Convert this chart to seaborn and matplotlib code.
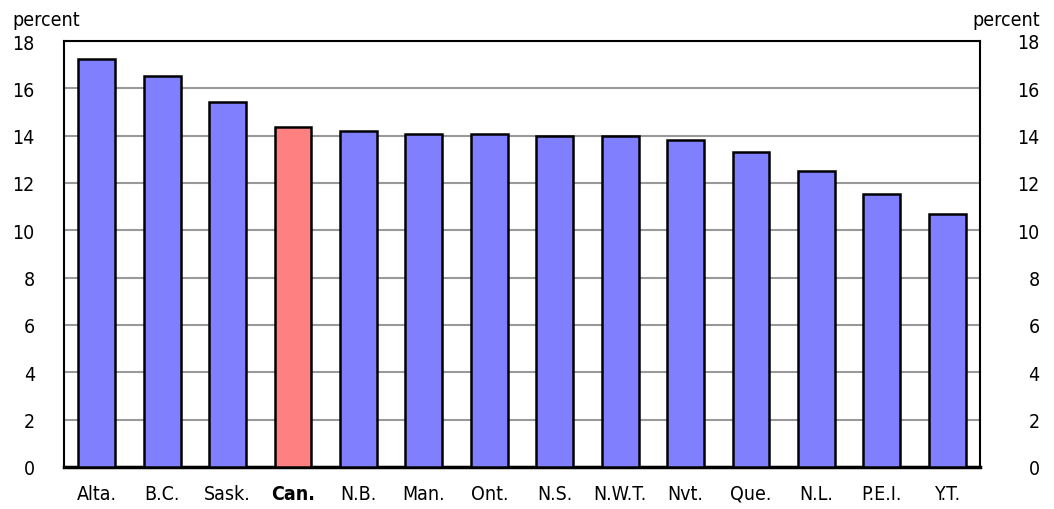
import pandas as pd
import numpy as np
import seaborn as sns
import matplotlib.pyplot as plt

# regions and values (percent)
regions = ['Alta.', 'B.C.', 'Sask.', 'Can.', 'N.B.', 'Man.', 'Ont.', 'N.S.',
           'N.W.T.', 'Nvt.', 'Que.', 'N.L.', 'P.E.I.', 'Y.T.']
values = [17.24, 16.51, 15.41, 14.38, 14.21, 14.05, 14.05, 13.99,
          13.99, 13.82, 13.33, 12.51, 11.55, 10.67]
highlight = 'Can.'

sns.set_style('white')
plt.rcParams['font.family'] = ['DejaVu Sans']
plt.rcParams['font.stretch'] = 'condensed'
plt.rcParams['text.color'] = 'black'
plt.rcParams['xtick.color'] = 'black'
plt.rcParams['ytick.color'] = 'black'

df = pd.DataFrame({'region': regions, 'value': values})
colors = ['#ff8080' if r == highlight else '#8080ff' for r in regions]

fig = plt.figure(figsize=(10.54, 5.10), dpi=100)
ax = fig.add_axes([64 / 1054, 42 / 510, 916 / 1054, 426 / 510])

sns.barplot(data=df, x='region', y='value', hue='region', palette=colors,
            legend=False, width=0.565, edgecolor='black', linewidth=1.8,
            saturation=1, ax=ax, zorder=3)

ax.set_ylim(0, 18)
ax.set_xlim(-0.5, len(regions) - 0.5)
ax.set_yticks(np.arange(0, 19, 2))
ax.yaxis.grid(True, color='#999999', linewidth=1.5, zorder=0)
ax.set_axisbelow(True)
ax.set_xlabel('')
ax.set_ylabel('')

for s in ['left', 'right', 'top']:
    ax.spines[s].set_color('black')
    ax.spines[s].set_linewidth(1.5)
ax.spines['bottom'].set_color('black')
ax.spines['bottom'].set_linewidth(2.5)

ax.tick_params(axis='y', length=0, labelsize=14, pad=21)
ax.tick_params(axis='x', length=0, labelsize=14, pad=12)
for lab in ax.get_yticklabels():
    lab.set_horizontalalignment('right')
for lab in ax.get_xticklabels():
    if lab.get_text() == highlight:
        lab.set_fontweight('bold')

# right-hand axis labels, right aligned near the edge
ax2 = ax.twinx()
ax2.set_ylim(0, 18)
ax2.set_yticks(np.arange(0, 19, 2))
ax2.tick_params(axis='y', length=0, labelsize=14, pad=43)
for lab in ax2.get_yticklabels():
    lab.set_horizontalalignment('right')
for s in ax2.spines.values():
    s.set_visible(False)
ax2.grid(False)

fig.text(12 / 1054, 1 - 20 / 510, 'percent', fontsize=14, va='center', ha='left')
fig.text(1040 / 1054, 1 - 20 / 510, 'percent', fontsize=14, va='center', ha='right')

plt.savefig('out.png', dpi=100)
